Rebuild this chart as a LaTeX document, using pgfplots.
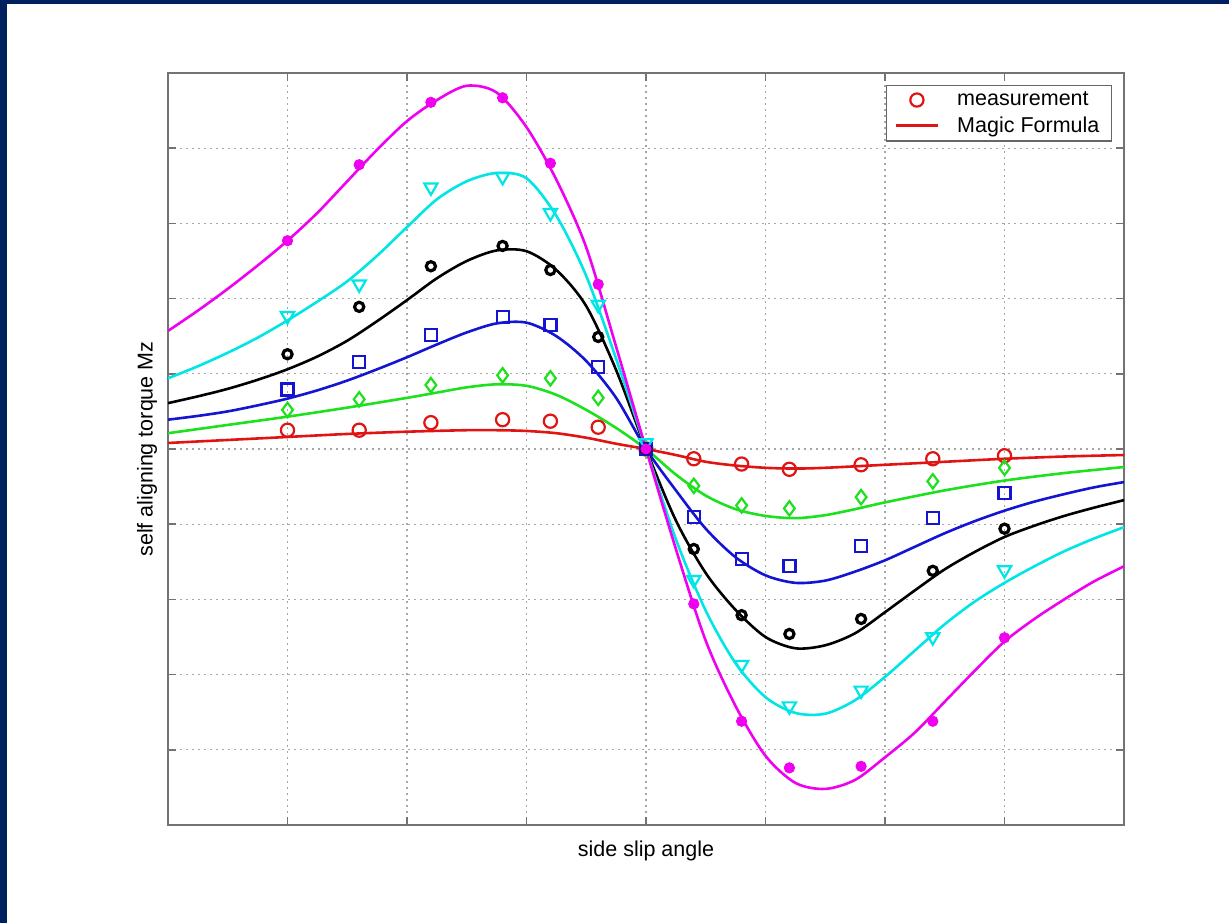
\documentclass[border=0pt]{standalone}
\usepackage{pgfplots}
\pgfplotsset{compat=1.18}
\usepackage{fontspec}
\setmainfont{Liberation Sans}
\definecolor{navy}{RGB}{0,33,96}
\definecolor{cred}{RGB}{225,20,20}
\definecolor{cgreen}{RGB}{30,225,30}
\definecolor{cblue}{RGB}{20,20,210}
\definecolor{ccyan}{RGB}{0,230,230}
\definecolor{cmag}{RGB}{240,0,240}
\begin{document}
\begin{tikzpicture}
\fill[white] (-84pt,-49pt) rectangle (530.5pt,412.5pt);
\fill[navy] (-84pt,-49pt) rectangle (-80.5pt,412.5pt);
\fill[navy] (-84pt,410.5pt) rectangle (530.5pt,412.5pt);
\begin{axis}[
  at={(0pt,0pt)}, anchor=south west,
  scale only axis, width=478pt, height=376pt,
  xmin=-4, xmax=4, ymin=-5, ymax=5,
  xtick={-4,-3,...,4}, ytick={-5,-4,...,5},
  xticklabels={}, yticklabels={},
  major tick length=4pt,
  tick style={black!55, line width=0.8pt},
  axis line style={black!55, line width=0.9pt},
  grid=major,
  grid style={black!35, line width=0.6pt, dash pattern=on 1pt off 2pt},
  every axis label/.append style={font=\fontsize{10.75pt}{13pt}\selectfont},
  xlabel={side slip angle},
  xlabel style={at={(axis description cs:0.5,0)}, anchor=center, yshift=-13pt},
  ylabel={self aligning torque Mz},
  ylabel style={at={(axis description cs:0,0.5)}, anchor=center, yshift=10.5pt},
  legend style={at={(1,1)}, anchor=north east, xshift=-6pt, yshift=-6pt,
    draw=black!60, line width=0.6pt, fill=white,
    font=\fontsize{10.75pt}{13pt}\selectfont, inner xsep=4pt, inner ysep=1pt, row sep=0pt, column sep=7pt},
  legend cell align=left,
  legend image code/.code={\draw[mark repeat=2,mark phase=2,#1] plot coordinates {(0pt,0pt) (10.5pt,0pt) (21pt,0pt)};},
  curve/.style={smooth, line width=1.3pt, no markers},
]
% ---------------- red ----------------
\addplot[only marks, mark=o, mark size=3.3pt, mark options={line width=1.1pt}, color=cred] coordinates {
(-3,0.25) (-2.4,0.25) (-1.8,0.35) (-1.2,0.39) (-0.8,0.37) (-0.4,0.29) (0,0)
(0.4,-0.13) (0.8,-0.20) (1.2,-0.27) (1.8,-0.21) (2.4,-0.13) (3,-0.09)};
\addlegendentry{measurement}
\addplot[curve, color=cred] coordinates {
(-4,0.08) (-3.5,0.12) (-3,0.16) (-2.5,0.20) (-2,0.23) (-1.5,0.25) (-1.25,0.25) (-1,0.24)
(-0.75,0.21) (-0.5,0.15) (-0.25,0.07) (0,0) (0.25,-0.08) (0.5,-0.17) (0.75,-0.22) (1,-0.25)
(1.25,-0.26) (1.5,-0.25) (2,-0.21) (2.5,-0.17) (3,-0.13) (3.5,-0.10) (4,-0.08)};
\addlegendentry{Magic Formula}
% ---------------- green ----------------
\addplot[only marks, mark=diamond, mark size=3.6pt, mark options={line width=1.1pt}, color=cgreen, forget plot] coordinates {
(-3,0.52) (-2.4,0.66) (-1.8,0.85) (-1.2,0.98) (-0.8,0.94) (-0.4,0.68) (0,0)
(0.4,-0.49) (0.8,-0.75) (1.2,-0.79) (1.8,-0.64) (2.4,-0.43) (3,-0.25)};
\addplot[curve, color=cgreen, forget plot] coordinates {
(-4,0.21) (-3.5,0.32) (-3,0.43) (-2.5,0.55) (-2,0.68) (-1.75,0.75) (-1.5,0.82) (-1.25,0.86) (-1,0.84)
(-0.75,0.72) (-0.5,0.52) (-0.25,0.28) (0,0) (0.25,-0.34) (0.5,-0.62) (0.75,-0.80) (1,-0.89)
(1.25,-0.92) (1.5,-0.88) (1.75,-0.80) (2,-0.71) (2.5,-0.55) (3,-0.42) (3.5,-0.32) (4,-0.24)};
% ---------------- blue ----------------
\addplot[only marks, mark=square, mark size=3pt, mark options={line width=1.1pt}, color=cblue, forget plot] coordinates {
(-3,0.79) (-2.4,1.16) (-1.8,1.52) (-1.2,1.76) (-0.8,1.65) (-0.4,1.09) (0,0)
(0.4,-0.90) (0.8,-1.46) (1.2,-1.56) (1.8,-1.29) (2.4,-0.92) (3,-0.59)};
\addplot[curve, color=cblue, forget plot] coordinates {
(-4,0.39) (-3.75,0.44) (-3.5,0.50) (-3.25,0.58) (-3,0.67) (-2.75,0.78) (-2.5,0.91) (-2.25,1.06)
(-2,1.22) (-1.75,1.39) (-1.5,1.55) (-1.25,1.67) (-1,1.68) (-0.75,1.50) (-0.5,1.17) (-0.25,0.68)
(0,0) (0.25,-0.55) (0.5,-1.06) (0.75,-1.44) (1,-1.68) (1.25,-1.78) (1.5,-1.75) (1.75,-1.63)
(2,-1.48) (2.25,-1.30) (2.5,-1.12) (2.75,-0.96) (3,-0.82) (3.25,-0.70) (3.5,-0.60) (3.75,-0.51) (4,-0.44)};
% ---------------- black ----------------
\addplot[only marks, mark=o, mark size=2.3pt, mark options={line width=1.6pt}, color=black, forget plot] coordinates {
(-3,1.26) (-2.4,1.89) (-1.8,2.43) (-1.2,2.70) (-0.8,2.38) (-0.4,1.49) (0,0)
(0.4,-1.33) (0.8,-2.21) (1.2,-2.46) (1.8,-2.26) (2.4,-1.62) (3,-1.06)};
\addplot[curve, color=black, forget plot] coordinates {
(-4,0.61) (-3.75,0.70) (-3.5,0.80) (-3.25,0.92) (-3,1.06) (-2.75,1.23) (-2.5,1.44) (-2.25,1.70)
(-2,1.98) (-1.75,2.27) (-1.5,2.50) (-1.25,2.64) (-1,2.63) (-0.75,2.38) (-0.5,1.90) (-0.25,1.05)
(0,0) (0.25,-0.95) (0.5,-1.65) (0.75,-2.14) (1,-2.50) (1.25,-2.65) (1.5,-2.61) (1.75,-2.45)
(2,-2.17) (2.25,-1.88) (2.5,-1.60) (2.75,-1.37) (3,-1.17) (3.25,-1.02) (3.5,-0.89) (3.75,-0.78) (4,-0.68)};
% ---------------- cyan ----------------
\addplot[only marks, mark=triangle, mark size=3.8pt, mark options={line width=1.1pt, rotate=180}, color=ccyan, forget plot] coordinates {
(-3,1.77) (-2.4,2.19) (-1.8,3.48) (-1.2,3.62) (-0.8,3.14) (-0.4,1.92) (0,0.08)
(0.4,-1.74) (0.8,-2.87) (1.2,-3.42) (1.8,-3.21) (2.4,-2.50) (3,-1.61)};
\addplot[curve, color=ccyan, forget plot] coordinates {
(-4,0.94) (-3.75,1.10) (-3.5,1.28) (-3.25,1.48) (-3,1.71) (-2.75,1.96) (-2.5,2.23) (-2.25,2.57)
(-2,2.95) (-1.75,3.32) (-1.5,3.56) (-1.25,3.67) (-1,3.60) (-0.75,3.10) (-0.5,2.30) (-0.25,1.20)
(0,0) (0.25,-1.20) (0.5,-2.15) (0.75,-2.85) (1,-3.30) (1.25,-3.51) (1.5,-3.52) (1.75,-3.34)
(2,-3.03) (2.25,-2.68) (2.5,-2.33) (2.75,-2.03) (3,-1.78) (3.25,-1.56) (3.5,-1.36) (3.75,-1.19) (4,-1.04)};
% ---------------- magenta ----------------
\addplot[only marks, mark=*, mark size=2.6pt, color=cmag, forget plot] coordinates {
(-3,2.77) (-2.4,3.78) (-1.8,4.61) (-1.2,4.67) (-0.8,3.80) (-0.4,2.19) (0,0)
(0.4,-2.06) (0.8,-3.62) (1.2,-4.24) (1.8,-4.22) (2.4,-3.62) (3,-2.51)};
\addplot[curve, color=cmag, forget plot] coordinates {
(-4,1.57) (-3.75,1.84) (-3.5,2.13) (-3.25,2.44) (-3,2.77) (-2.75,3.14) (-2.5,3.56) (-2.25,3.98)
(-2,4.36) (-1.75,4.64) (-1.5,4.83) (-1.25,4.74) (-1,4.28) (-0.75,3.58) (-0.5,2.68) (-0.25,1.36)
(0,0) (0.25,-1.33) (0.5,-2.55) (0.75,-3.42) (1,-4.08) (1.25,-4.44) (1.5,-4.52) (1.75,-4.40)
(2,-4.10) (2.25,-3.77) (2.5,-3.36) (2.75,-2.95) (3,-2.56) (3.25,-2.26) (3.5,-2.00) (3.75,-1.76) (4,-1.56)};
\end{axis}
\pgfresetboundingbox
\useasboundingbox (-84pt,-49pt) rectangle (530.5pt,412.5pt);
\end{tikzpicture}
\end{document}
